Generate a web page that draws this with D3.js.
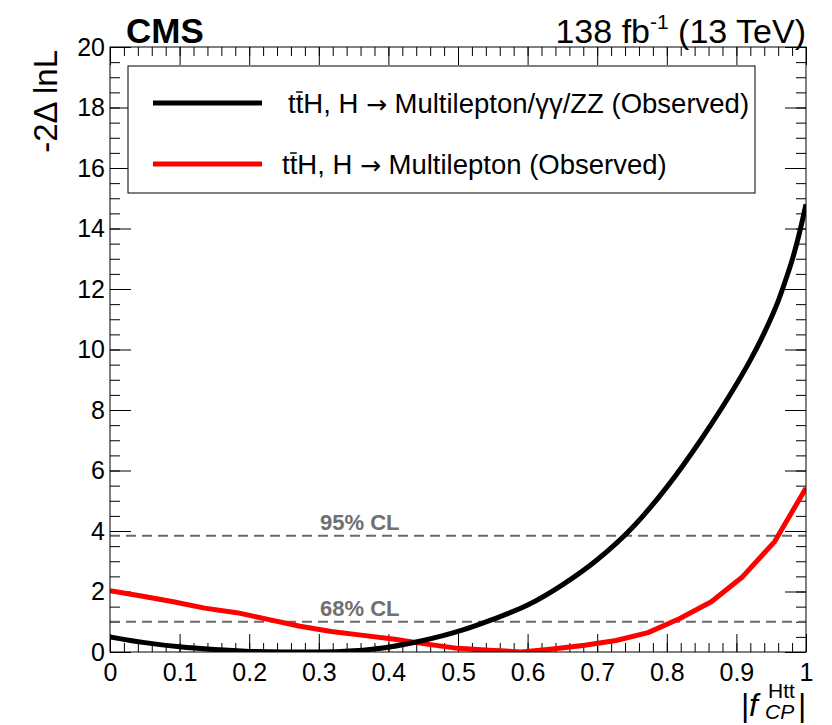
<!DOCTYPE html>
<html>
<head>
<meta charset="utf-8">
<script src="https://cdn.jsdelivr.net/npm/d3@7"></script>
<style>
  html, body { margin: 0; padding: 0; background: #fff; }
  svg { display: block; font-family: "Liberation Sans", Arial, Helvetica, sans-serif; }
  .tick text { font-size: 25px; fill: #000; }
  .tick line { stroke: #000; stroke-width: 1; }
</style>
</head>
<body>
<svg id="chart" width="832" height="725"></svg>
<script>
// ── Data ───────────────────────────────────────────────────────────────────

// combined ttH (multilepton + γγ + ZZ), observed scan
const comboX = [0, 0.05, 0.10, 0.15, 0.20, 0.25, 0.30, 0.35, 0.40, 0.45, 0.50,
                0.55, 0.60, 0.65, 0.70, 0.75, 0.80, 0.85, 0.90, 0.92, 0.94,
                0.96, 0.97, 0.98, 0.99, 1.00];
const comboY = [0.50, 0.31, 0.17, 0.08, 0.02, 0.00, 0.00, 0.04, 0.16, 0.38, 0.68,
                1.08, 1.55, 2.22, 3.05, 4.10, 5.45, 7.05, 8.85, 9.65, 10.55,
                11.6, 12.25, 12.95, 13.8, 14.8];

// multilepton only, observed scan (22 steps)
const mlX = [0.000, 0.045, 0.091, 0.136, 0.182, 0.227, 0.273, 0.318, 0.364, 0.409,
             0.455, 0.500, 0.545, 0.591, 0.636, 0.682, 0.727, 0.773, 0.818, 0.864,
             0.909, 0.955, 1.000];
const mlY = [2.03, 1.85, 1.66, 1.45, 1.30, 1.08, 0.85, 0.68, 0.55, 0.42,
             0.26, 0.12, 0.06, 0.00, 0.10, 0.22, 0.38, 0.64, 1.10, 1.66,
             2.49, 3.65, 5.42];

const clLevels = [3.84, 1.0];
const clLabels = ['95% CL', '68% CL'];

const xMajor = d3.range(0, 11).map(i => i / 10);
const xMinor = d3.range(0, 51).map(i => i / 50);
const yMajor = d3.range(0, 11).map(i => i * 2);
const yMinor = d3.range(0, 41).map(i => i / 2);

// ── Layout ─────────────────────────────────────────────────────────────────

const svg = d3.select('#chart');
const L = 110, R = 806, T = 47, B = 652;

const x = d3.scaleLinear().domain([0, 1]).range([L, R]);
const y = d3.scaleLinear().domain([0, 20]).range([B, T]);

svg.append('defs').append('clipPath').attr('id', 'plot-clip')
  .append('rect').attr('x', L).attr('y', T).attr('width', R - L).attr('height', B - T);

// ── Axes (ROOT style: ticks pointing inward) ───────────────────────────────

function addAxis(axis, tx, ty) {
  const g = svg.append('g').attr('transform', `translate(${tx},${ty})`).call(axis);
  g.select('.domain').remove();
  return g;
}

addAxis(d3.axisBottom(x).tickValues(xMajor).tickSize(-18).tickPadding(11)
  .tickFormat(d => String(d)), 0, B);
addAxis(d3.axisBottom(x).tickValues(xMinor).tickSize(-9).tickFormat(''), 0, B);
addAxis(d3.axisTop(x).tickValues(xMajor).tickSize(-18).tickFormat(''), 0, T);
addAxis(d3.axisTop(x).tickValues(xMinor).tickSize(-9).tickFormat(''), 0, T);

addAxis(d3.axisLeft(y).tickValues(yMajor).tickSize(-21).tickPadding(5)
  .tickFormat(d => String(d)), L, 0);
addAxis(d3.axisLeft(y).tickValues(yMinor).tickSize(-10).tickFormat(''), L, 0);
addAxis(d3.axisRight(y).tickValues(yMajor).tickSize(-21).tickFormat(''), R, 0);
addAxis(d3.axisRight(y).tickValues(yMinor).tickSize(-10).tickFormat(''), R, 0);

// ── CL lines ───────────────────────────────────────────────────────────────

const plot = svg.append('g').attr('clip-path', 'url(#plot-clip)');

plot.selectAll('line.cl')
  .data(clLevels)
  .join('line')
  .attr('class', 'cl')
  .attr('x1', L).attr('x2', R)
  .attr('y1', d => y(d)).attr('y2', d => y(d))
  .attr('stroke', '#6a6a6a')
  .attr('stroke-width', 2)
  .attr('stroke-dasharray', '10,6');

svg.selectAll('text.cl')
  .data(clLevels)
  .join('text')
  .attr('class', 'cl')
  .attr('x', 320)
  .attr('y', d => y(d) - 6)
  .attr('font-size', 22)
  .attr('font-weight', 'bold')
  .attr('fill', '#707070')
  .text((d, i) => clLabels[i]);

// ── Curves ─────────────────────────────────────────────────────────────────

const comboLine = d3.line()
  .x((d, i) => x(comboX[i]))
  .y(d => y(d))
  .curve(d3.curveMonotoneX);

const mlLine = d3.line()
  .x((d, i) => x(mlX[i]))
  .y(d => y(d));

plot.append('path')
  .datum(mlY)
  .attr('d', mlLine)
  .attr('fill', 'none')
  .attr('stroke', '#ff0000')
  .attr('stroke-width', 5)
  .attr('stroke-linejoin', 'round');

plot.append('path')
  .datum(comboY)
  .attr('d', comboLine)
  .attr('fill', 'none')
  .attr('stroke', '#000')
  .attr('stroke-width', 5);

// ── Frame ──────────────────────────────────────────────────────────────────

svg.append('rect')
  .attr('x', L).attr('y', T).attr('width', R - L).attr('height', B - T)
  .attr('fill', 'none').attr('stroke', '#000').attr('stroke-width', 1);

// ── Legend ─────────────────────────────────────────────────────────────────

const legendEntries = [
  { color: '#000', y: 103, tx: 288, rest: 'Multilepton/\u03b3\u03b3/ZZ (Observed)' },
  { color: '#ff0000', y: 164, tx: 282, rest: 'Multilepton (Observed)' }
];

svg.append('rect')
  .attr('x', 128).attr('y', 66).attr('width', 627).attr('height', 127)
  .attr('fill', '#fff').attr('stroke', '#000').attr('stroke-width', 1);

legendEntries.forEach(e => {
  svg.append('line')
    .attr('x1', 153).attr('x2', 262)
    .attr('y1', e.y).attr('y2', e.y)
    .attr('stroke', e.color).attr('stroke-width', 5);
  const t = svg.append('text')
    .attr('x', e.tx).attr('y', e.y + 10)
    .attr('font-size', 27.5);
  t.append('tspan').text('ttH, H ');
  t.append('tspan').attr('font-family', '"DejaVu Sans", sans-serif').attr('font-size', 25).text('\u2192');
  t.append('tspan').text(' ' + e.rest);
  // anti-top bar over the second "t"
  const node = t.node();
  const s = node.getStartPositionOfChar(1).x;
  const en = node.getEndPositionOfChar(1).x;
  svg.append('line')
    .attr('x1', s + 0.5).attr('x2', en - 0.5)
    .attr('y1', e.y + 10 - 21).attr('y2', e.y + 10 - 21)
    .attr('stroke', '#000').attr('stroke-width', 1.5);
});

// ── Titles ─────────────────────────────────────────────────────────────────

svg.append('text')
  .attr('x', 126).attr('y', 43)
  .attr('font-size', 35).attr('font-weight', 'bold')
  .text('CMS');

const lumi = svg.append('text')
  .attr('x', 806).attr('y', 43)
  .attr('text-anchor', 'end')
  .attr('font-size', 34);
lumi.append('tspan').text('138 fb');
lumi.append('tspan').attr('dy', -14).attr('font-size', 21).text('-1');
lumi.append('tspan').attr('dy', 14).text(' (13 TeV)');

svg.append('text')
  .attr('transform', 'translate(57,50) rotate(-90)')
  .attr('text-anchor', 'end')
  .attr('font-size', 33)
  .text('-2\u0394 lnL');

// x title |f_CP^Htt|
const xt = svg.append('g').attr('font-size', 32);
xt.append('text').attr('x', 741).attr('y', 716).text('|');
xt.append('text').attr('x', 749).attr('y', 716).attr('font-style', 'italic').text('f');
xt.append('text').attr('x', 768).attr('y', 698).attr('font-size', 21).text('Htt');
xt.append('text').attr('x', 765).attr('y', 719).attr('font-size', 21)
  .attr('font-style', 'italic').text('CP');
xt.append('text').attr('x', 798).attr('y', 716).text('|');
</script>
</body>
</html>
